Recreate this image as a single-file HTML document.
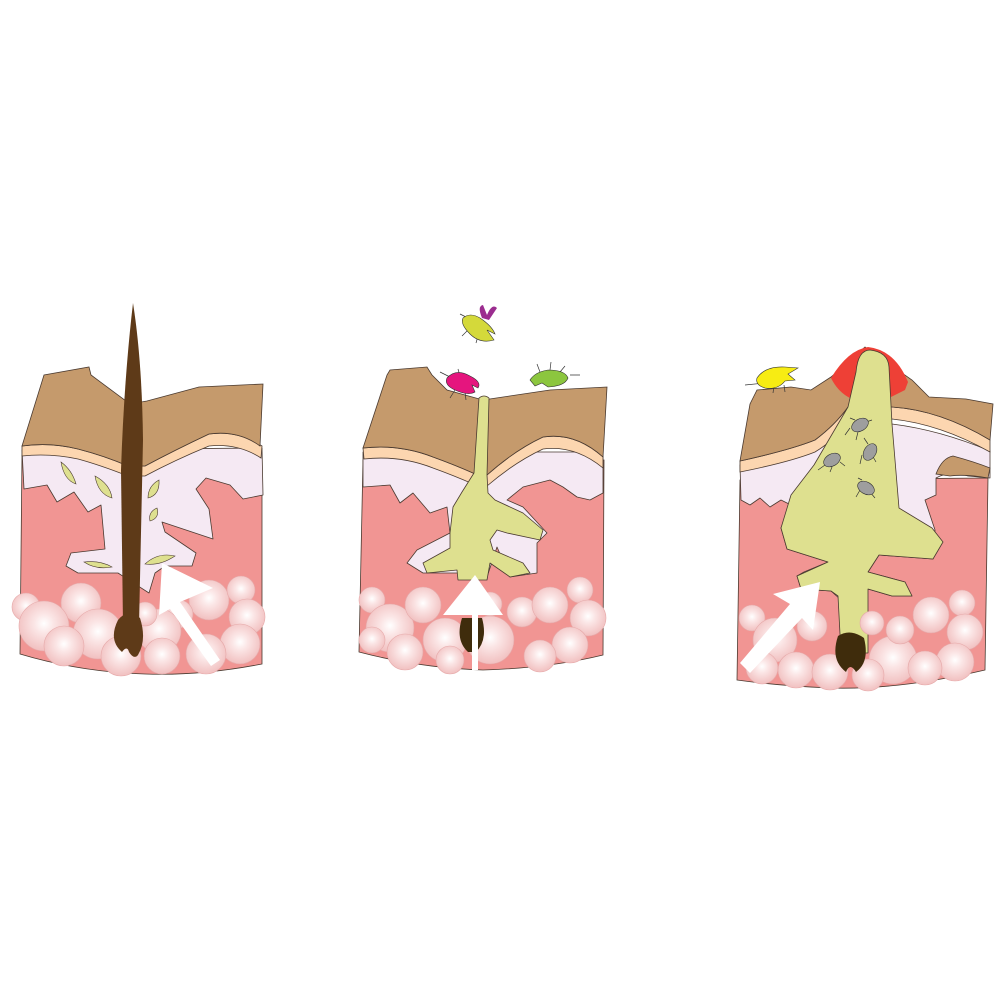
<!DOCTYPE html>
<html><head><meta charset="utf-8"><style>html,body{margin:0;padding:0;background:#fff}svg{display:block}</style></head>
<body>
<svg width="1000" height="1000" viewBox="0 0 1000 1000" xmlns="http://www.w3.org/2000/svg">
<defs>
<radialGradient id="fat" cx="50%" cy="45%" r="55%">
<stop offset="0" stop-color="#ffffff"/><stop offset="0.35" stop-color="#fbe6e6"/><stop offset="1" stop-color="#f1c0c0"/>
</radialGradient>
</defs>

<!-- ================= PANEL 1 ================= -->
<g stroke="#4a3a30" stroke-width="0.8">
<path d="M22,455 L262,455 L262,664 Q200,676 145,674 Q80,672 20,654 Z" fill="#f19593"/>
<path d="M22,450 L262,448 L263,495 L243,499 L230,485 L206,478 L196,489 L209,509 L213,539 L162,522 L165,532 L196,553 L192,566 L165,566 L155,573 L149,593 L118,573 L78,573 L66,566 L71,553 L105,549 L101,505 L88,512 L74,492 L57,502 L47,485 L24,489 Z" fill="#f5e9f3" stroke-linejoin="round"/>
<path d="M22,446 Q50,442 78,449 Q105,456 128,466 L145,466 Q175,450 209,434 Q238,430 262,446 L261,458 Q238,443 209,446 Q175,460 145,476 L128,476 Q100,465 78,459 Q50,453 22,456 Z" fill="#fcd6b0"/>
<path d="M22,446 L44,375 L89,367 L91,375 L130,404 L147,401 L199,387 L263,384 L260,446 Q238,430 209,434 Q175,450 145,466 L128,466 Q105,456 78,449 Q50,442 22,446 Z" fill="#c59a6c"/>
</g>
<g fill="url(#fat)" stroke="#e6a9a9" stroke-width="0.6">
<circle cx="26" cy="607" r="14"/><circle cx="81" cy="603" r="20"/><circle cx="44" cy="626" r="25"/><circle cx="98" cy="634" r="25"/><circle cx="64" cy="646" r="20"/><circle cx="209" cy="600" r="20"/><circle cx="241" cy="590" r="14"/><circle cx="179" cy="614" r="14"/><circle cx="247" cy="617" r="18"/><circle cx="159" cy="631" r="22"/><circle cx="240" cy="644" r="20"/><circle cx="206" cy="654" r="20"/><circle cx="162" cy="656" r="18"/><circle cx="121" cy="656" r="20"/><circle cx="145" cy="614" r="12"/>
</g>
<g fill="#dee08f" stroke="#4a3a30" stroke-width="0.6">
<path d="M61,462 Q72,470 76,484 Q64,480 61,462 Z"/>
<path d="M95,476 Q110,484 112,498 Q98,494 95,476 Z"/>
<path d="M159,480 Q160,495 148,498 Q148,486 159,480 Z"/>
<path d="M157,508 Q160,518 150,521 Q148,512 157,508 Z"/>
<path d="M84,562 Q100,560 112,567 Q96,570 84,562 Z"/>
<path d="M145,564 Q158,552 175,556 Q160,566 145,564 Z"/>
</g>
<path d="M133,303 Q142,360 143,440 L139,625 L123,625 L121,470 Q124,380 133,303 Z" fill="#5e3a18"/>
<path d="M118,620 Q108,640 122,652 Q127,645 129,652 Q134,660 138,655 Q147,640 140,618 Q128,608 118,620 Z" fill="#5e3a18"/>
<g fill="#fff">
<path d="M162,563 L159,615 L170,609 L211,666 L220,660 L180,602 L213,588 Z"/>
</g>

<!-- ================= PANEL 2 ================= -->
<g stroke="#4a3a30" stroke-width="0.8">
<path d="M363,460 L604,460 L603,655 Q550,668 483,670 Q420,668 359,652 Z" fill="#f19593"/>
<path d="M363,452 L603,452 L603,493 L590,500 L577,497 L563,487 L550,480 L523,487 L507,500 L523,507 L547,533 L537,543 L537,573 L510,577 L497,547 L487,577 L457,573 L423,573 L407,563 L417,550 L450,533 L447,507 L430,513 L413,493 L400,503 L390,485 L363,487 Z" fill="#f5e9f3" stroke-linejoin="round"/>
<path d="M363,448 Q400,444 433,457 Q455,465 473,473 L487,475 Q515,450 543,437 Q575,432 603,457 L603,468 Q575,445 543,449 Q515,462 487,486 L473,484 Q455,476 433,468 Q400,455 364,459 Z" fill="#fcd6b0"/>
<path d="M363,448 L387,375 L390,370 L427,367 L432,375 L447,390 L483,400 L550,390 L607,387 L603,457 Q575,432 543,437 Q515,450 487,475 L473,473 Q455,465 433,457 Q400,444 363,448 Z" fill="#c59a6c"/>
</g>
<path d="M479,398 Q484,394 489,398 L487,475 L488,493 L495,500 L523,513 L543,530 L540,540 L507,533 L497,530 L490,540 L493,550 L523,563 L530,573 L510,577 L490,563 L487,580 L458,580 L457,570 L427,573 L423,563 L450,548 L450,533 L453,507 L462,492 L474,473 Z" fill="#dee08f" stroke="#4a3a30" stroke-width="0.8" stroke-linejoin="round"/>
<g fill="url(#fat)" stroke="#e6a9a9" stroke-width="0.6">
<circle cx="372" cy="600" r="13"/><circle cx="390" cy="628" r="24"/><circle cx="423" cy="605" r="18"/><circle cx="405" cy="652" r="18"/><circle cx="372" cy="640" r="13"/><circle cx="445" cy="640" r="22"/><circle cx="490" cy="640" r="24"/><circle cx="522" cy="612" r="15"/><circle cx="550" cy="605" r="18"/><circle cx="580" cy="590" r="13"/><circle cx="588" cy="618" r="18"/><circle cx="570" cy="645" r="18"/><circle cx="540" cy="656" r="16"/><circle cx="490" cy="604" r="12"/><circle cx="450" cy="660" r="14"/>
</g>
<path d="M462,618 Q455,640 468,652 L472,652 L472,618 Z" fill="#3f2c0c"/>
<path d="M476,618 L476,652 Q488,640 482,618 Z" fill="#3f2c0c"/>
<g fill="#fff">
<path d="M475,575 L443,615 L472,615 L472,670 L478,670 L478,615 L503,615 Z"/>
</g>
<!-- bugs panel 2 -->
<g stroke="#333" stroke-width="0.7" fill="none">
<path d="M452,378 L440,372 M455,390 L450,398 M465,392 L466,400 M460,376 L458,369"/>
<path d="M540,372 L537,364 M550,370 L551,362 M560,372 L565,366 M570,375 L580,375"/>
<path d="M468,318 L460,314 M468,330 L462,336 M478,336 L476,343"/>
</g>
<path d="M447,378 Q456,368 470,376 Q482,382 478,388 L472,385 L475,392 Q468,396 455,390 Q444,385 447,378 Z" fill="#e5157e" stroke="#333" stroke-width="0.6"/>
<path d="M530,380 Q535,372 548,370 Q565,370 568,378 Q565,386 548,387 L542,383 L535,386 Z" fill="#8cc63f" stroke="#333" stroke-width="0.6"/>
<path d="M463,318 Q470,312 480,318 Q492,326 495,334 L487,330 L494,340 Q480,344 470,334 Q460,324 463,318 Z" fill="#d4d93a" stroke="#333" stroke-width="0.6"/>
<path d="M482,318 Q477,306 483,305 L487,315 Q492,303 497,308 L489,320 Z" fill="#9b2d8f"/>

<!-- ================= PANEL 3 ================= -->
<g stroke="#4a3a30" stroke-width="0.8">
<path d="M740,480 L988,478 L985,670 Q900,690 830,688 Q780,686 737,680 Z" fill="#f19593"/>
<path d="M740,465 L848,420 L892,424 Q940,430 990,451 L990,478 L968,476 Q950,470 936,478 L936,495 L925,500 L935,530 L933,559 L879,555 L868,572 L905,582 L912,596 L892,596 L868,589 L841,600 L831,591 L801,589 L797,576 L804,572 L828,562 L787,549 L781,528 L791,505 L781,500 L770,507 L760,498 L750,505 L741,500 Z" fill="#f5e9f3" stroke-linejoin="round"/>
<path d="M740,461 Q790,450 815,440 Q835,425 848,407 L892,407 Q940,410 990,440 L990,452 Q940,424 892,419 L850,420 Q835,440 815,452 Q790,462 740,472 Z" fill="#fcd6b0"/>
<path d="M740,461 L750,404 L757,390 L791,387 L811,390 L831,377 L865,347 L912,380 L929,397 L966,399 L993,404 L990,440 Q940,410 892,407 L848,407 Q835,425 815,440 Q790,450 740,461 Z" fill="#c59a6c"/>
<path d="M936,474 Q942,458 953,456 Q975,462 990,468 L988,478 Q965,474 950,476 Z" fill="#c59a6c"/>
</g>
<path d="M831,378 Q848,350 868,347 Q895,350 908,382 L905,390 Q895,395 889,398 L850,398 Q838,392 831,378 Z" fill="#ee4036"/>
<path d="M856,372 Q858,350 870,350 Q888,352 889,367 L892,424 L899,508 L932,528 L943,542 L933,559 L879,555 L868,572 L905,582 L912,596 L892,596 L868,589 L868,653 L841,653 L838,596 L831,591 L801,589 L797,576 L828,562 L787,549 L781,528 L791,495 L814,465 L848,407 Z" fill="#dee08f" stroke="#4a3a30" stroke-width="0.8" stroke-linejoin="round"/>
<g fill="url(#fat)" stroke="#e6a9a9" stroke-width="0.6">
<circle cx="752" cy="618" r="13"/><circle cx="775" cy="640" r="22"/><circle cx="762" cy="668" r="16"/><circle cx="812" cy="626" r="15"/><circle cx="796" cy="670" r="18"/><circle cx="830" cy="672" r="18"/><circle cx="893" cy="660" r="24"/><circle cx="900" cy="630" r="14"/><circle cx="931" cy="615" r="18"/><circle cx="962" cy="603" r="13"/><circle cx="965" cy="632" r="18"/><circle cx="955" cy="662" r="19"/><circle cx="925" cy="668" r="17"/><circle cx="872" cy="623" r="12"/><circle cx="868" cy="675" r="16"/>
</g>
<path d="M838,636 Q830,660 846,672 Q850,662 856,672 Q870,662 864,638 Q850,628 838,636 Z" fill="#3f2c0c"/>
<g fill="#fff">
<path d="M745,668 L750,673 L802,618 L813,630 L820,582 L773,594 L790,604 L740,663 Z"/>
</g>
<g stroke="#333" stroke-width="0.7" fill="none">
<path d="M850,428 L845,435 M858,432 L856,440 M866,422 L872,420 M855,420 L850,418"/>
<path d="M862,455 L860,464 M872,455 L876,462 M868,444 L864,438"/>
<path d="M825,465 L818,470 M832,467 L830,472 M840,462 L845,466"/>
<path d="M860,490 L856,497 M870,492 L875,498 M862,480 L858,478"/>
<path d="M765,383 L745,385 M774,386 L773,393 M784,385 L785,392"/>
</g>
<g fill="#9e9e9e" stroke="#333" stroke-width="0.6">
<ellipse cx="860" cy="425" rx="9" ry="6" transform="rotate(-30 860 425)"/>
<ellipse cx="870" cy="452" rx="9" ry="6" transform="rotate(-60 870 452)"/>
<ellipse cx="832" cy="460" rx="9" ry="6" transform="rotate(-30 832 460)"/>
<ellipse cx="866" cy="488" rx="9" ry="6" transform="rotate(30 866 488)"/>
</g>
<path d="M757,378 Q765,366 785,367 L798,368 L788,374 L795,380 L785,381 Q778,390 765,388 Q755,385 757,378 Z" fill="#f7ec13" stroke="#333" stroke-width="0.6"/>
</svg>
</body></html>
